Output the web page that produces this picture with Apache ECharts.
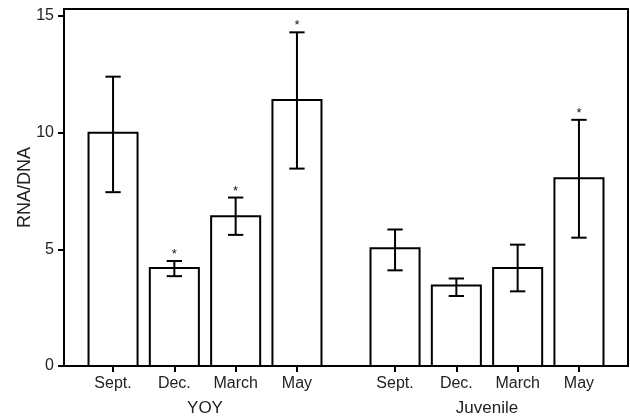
<!DOCTYPE html>
<html>
<head>
<meta charset="utf-8">
<script src="https://cdn.jsdelivr.net/npm/echarts@6/dist/echarts.min.js"></script>
<style>
html,body{margin:0;padding:0;background:#fff;}
#chart{width:630px;height:420px;}
</style>
</head>
<body>
<div id="chart"></div>
<script>
// ---- data ----
const categories = ['Sept.', 'Dec.', 'March', 'May'];
const groups = ['YOY', 'Juvenile'];
const yoyMean = [10.0, 4.2, 6.42, 11.4];
const yoyLow  = [7.45, 3.85, 5.62, 8.46];
const yoyHigh = [12.4, 4.5, 7.22, 14.3];
const yoySig  = [false, true, true, true];
const juvMean = [5.05, 3.45, 4.2, 8.05];
const juvLow  = [4.1, 3.0, 3.2, 5.5];
const juvHigh = [5.85, 3.75, 5.2, 10.55];
const juvSig  = [false, false, false, true];
const yTicks = [0, 5, 10, 15];
const yTitle = 'RNA/DNA';

// ---- layout (not data) ----
const GROUP_GAP = 0.6;
const FONT = '"Liberation Sans", Arial, Helvetica, sans-serif';
const TXT = '#222';

const groupData = [
  {mean: yoyMean, low: yoyLow, high: yoyHigh, sig: yoySig},
  {mean: juvMean, low: juvLow, high: juvHigh, sig: juvSig}
];
const positions = [];
const posLabels = [];
const groupCenters = [];
const seriesData = [];
groupData.forEach(function (g, gi) {
  const off = gi * (categories.length + GROUP_GAP);
  groupCenters.push(off + (categories.length - 1) / 2);
  categories.forEach(function (c, i) {
    const x = off + i;
    positions.push(x);
    posLabels.push(c);
    seriesData.push([x, g.mean[i], g.low[i], g.high[i], g.sig[i] ? 1 : 0]);
  });
});
function lookup(v, vals, labels) {
  for (let k = 0; k < vals.length; k++) {
    if (Math.abs(vals[k] - v) < 1e-6) return labels[k];
  }
  return '';
}

function renderItem(params, api) {
  const x = api.value(0), m = api.value(1), lo = api.value(2), hi = api.value(3), sig = api.value(4);
  const base = api.coord([x, 0]);
  const top = api.coord([x, m]);
  const pLo = api.coord([x, lo]);
  const pHi = api.coord([x, hi]);
  const unit = api.size([1, 0])[0];
  const bw = unit * 0.8, cw = unit * 0.25;
  const ls = {stroke: '#000', lineWidth: 2, fill: null};
  const children = [
    {type: 'rect', shape: {x: base[0] - bw / 2, y: top[1], width: bw, height: base[1] - top[1]},
     style: {fill: '#fff', stroke: '#000', lineWidth: 2}},
    {type: 'line', shape: {x1: pLo[0], y1: pLo[1], x2: pHi[0], y2: pHi[1]}, style: ls},
    {type: 'line', shape: {x1: pHi[0] - cw / 2, y1: pHi[1], x2: pHi[0] + cw / 2, y2: pHi[1]}, style: ls},
    {type: 'line', shape: {x1: pLo[0] - cw / 2, y1: pLo[1], x2: pLo[0] + cw / 2, y2: pLo[1]}, style: ls}
  ];
  if (sig) {
    children.push({type: 'text', x: pHi[0], y: pHi[1] - 6.5,
      style: {text: '*', fill: '#111', font: '13px ' + FONT, align: 'center', verticalAlign: 'middle'}});
  }
  return {type: 'group', children: children};
}

const chart = echarts.init(document.getElementById('chart'), null, {renderer: 'canvas'});
chart.setOption({
  animation: false,
  backgroundColor: '#fff',
  grid: {left: 64, right: 2, top: 9, bottom: 54, show: true, borderColor: '#000', borderWidth: 2, backgroundColor: 'transparent'},
  xAxis: [
    {
      type: 'value', min: -0.8, max: 8.4, position: 'bottom',
      axisLine: {show: true, onZero: false, lineStyle: {color: '#000', width: 2}},
      axisTick: {show: true, customValues: positions, length: 6, lineStyle: {color: '#000', width: 2}},
      axisLabel: {customValues: positions, formatter: function (v) { return lookup(v, positions, posLabels); },
        margin: 10, fontSize: 16, color: TXT, fontFamily: FONT},
      splitLine: {show: false}
    },
    {
      type: 'value', min: -0.8, max: 8.4, position: 'bottom', offset: 25,
      axisLine: {show: false, onZero: false}, axisTick: {show: false},
      axisLabel: {customValues: groupCenters, formatter: function (v) { return lookup(v, groupCenters, groups); },
        margin: 9, fontSize: 17, color: TXT, fontFamily: FONT},
      splitLine: {show: false}
    }
  ],
  yAxis: {
    type: 'value', min: 0, max: 15.3,
    name: yTitle, nameLocation: 'middle', nameGap: 30, nameRotate: 90, nameMoveOverlap: false,
    nameTextStyle: {fontSize: 18, color: TXT, fontFamily: FONT},
    axisLine: {show: true, onZero: false, lineStyle: {color: '#000', width: 2}},
    axisTick: {show: true, customValues: yTicks, length: 6, lineStyle: {color: '#000', width: 2}},
    axisLabel: {customValues: yTicks, margin: 10, fontSize: 16, color: TXT, fontFamily: FONT},
    splitLine: {show: false}
  },
  series: [{
    type: 'custom', renderItem: renderItem, data: seriesData,
    encode: {x: 0, y: [1, 2, 3]}, clip: false
  }]
});
</script>
</body>
</html>
